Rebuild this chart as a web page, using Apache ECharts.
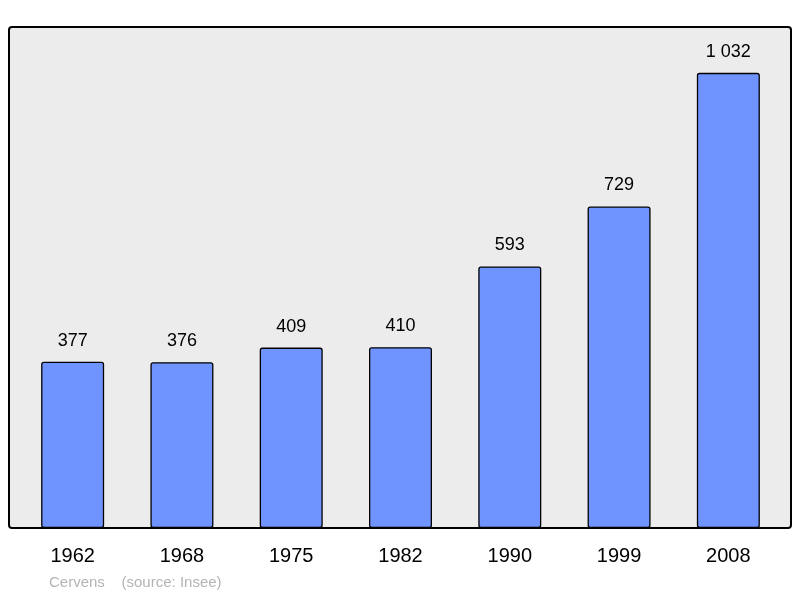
<!DOCTYPE html>
<html>
<head>
<meta charset="utf-8">
<script src="https://cdn.jsdelivr.net/npm/echarts@6/dist/echarts.min.js"></script>
<style>html,body{margin:0;padding:0;background:#fff}#c{width:800px;height:598px}</style>
</head>
<body>
<div id="c"></div>
<script>
const years = ['1962', '1968', '1975', '1982', '1990', '1999', '2008'];
const population = [377, 376, 409, 410, 593, 729, 1032];

const chart = echarts.init(document.getElementById('c'));

// thousands separated by a space, like the original
const fmt = v => String(v).replace(/\B(?=(\d{3})+(?!\d))/g, ' ');

chart.setOption({
  animation: false,
  graphic: [
    {
      type: 'rect', z: -10,
      shape: { x: 9, y: 27, width: 782, height: 501, r: 3 },
      style: { fill: '#ececec', stroke: '#000', lineWidth: 2 }
    },
    {
      type: 'text', left: 49, top: 575,
      style: { text: 'Cervens    (source: Insee)', fill: '#b4b4b4', font: '15px "Liberation Sans", Arial, sans-serif' }
    }
  ],
  grid: { left: 18, right: 17, top: 27, bottom: 70 },
  xAxis: {
    type: 'category',
    data: years,
    axisLine: { show: false },
    axisTick: { show: false },
    axisLabel: { color: '#000', fontSize: 20, margin: 18, fontFamily: '"Liberation Sans", Arial, sans-serif' }
  },
  yAxis: { type: 'value', min: 0, max: 1136, show: false, splitLine: { show: false } },
  series: [{
    type: 'bar',
    data: population,
    barWidth: 63,
    itemStyle: { color: '#7094ff', borderColor: '#000', borderWidth: 1.3, borderRadius: 2 },
    label: {
      show: true, position: 'top', distance: 12,
      color: '#000', fontSize: 18, fontFamily: '"Liberation Sans", Arial, sans-serif',
      formatter: p => fmt(p.value)
    }
  }]
});
</script>
</body>
</html>
